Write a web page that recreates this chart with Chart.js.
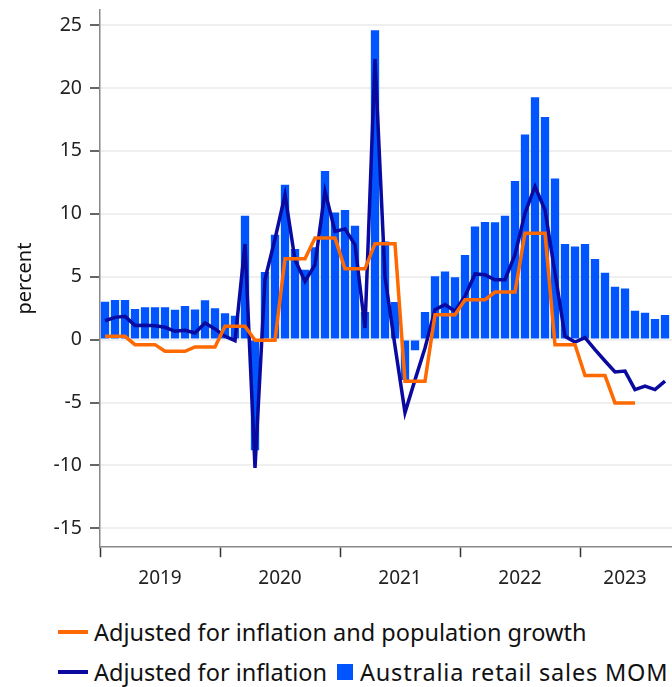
<!DOCTYPE html>
<html><head><meta charset="utf-8">
<script src="https://cdn.jsdelivr.net/npm/chart.js@4.4.1/dist/chart.umd.min.js"></script>
<style>
html,body{margin:0;padding:0;background:#fff;}
#wrap{position:relative;width:672px;height:687px;overflow:hidden;}
#cbox{position:absolute;left:0;top:0;width:672px;height:600px;}
#legend{position:absolute;left:58px;top:612px;font-family:'Noto Sans',sans-serif;font-size:23.5px;color:#111;}
.row{display:flex;align-items:center;height:40px;white-space:nowrap;}
.item{display:flex;align-items:center;margin-right:10px;}
.line{width:30px;height:4px;margin-right:6px;}
.sq{width:16px;height:16px;margin-right:7px;}
.wide{letter-spacing:0.8px;}
</style></head>
<body><div id="wrap"><div id="cbox"><canvas id="c"></canvas></div><div id="legend"></div></div>
<script>
// ---- data ----
const years = ['2019','2020','2021','2022','2023'];
const yTicks = [-15,-10,-5,0,5,10,15,20,25];
const seriesNames = ['Adjusted for inflation and population growth','Adjusted for inflation','Australia retail sales MOM'];
// monthly, Jan 2019 .. Sep 2023
const retailSales = [3.0,3.15,3.15,2.43,2.57,2.57,2.57,2.38,2.67,2.4,3.12,2.49,
  2.1,1.9,9.84,-8.8,5.37,8.33,12.3,7.2,5.56,7.35,13.4,10.1,
  10.3,9.05,2.2,24.6,7.8,2.99,-3.2,-0.85,2.2,5.03,5.42,4.95,
  6.72,9.0,9.35,9.32,9.84,12.6,16.3,19.26,17.7,12.8,7.6,7.4,
  7.6,6.4,5.32,4.2,4.07,2.3,2.14,1.64,1.96];
const adjInflation = [1.5,1.77,1.85,1.13,1.15,1.1,0.98,0.66,0.74,0.53,1.32,0.85,
  0.26,-0.08,7.6,-10.2,4.8,8.0,11.5,6.35,4.63,5.95,11.8,8.6,
  8.8,7.54,0.93,22.3,5.0,-0.5,-5.8,-3.2,-0.66,2.38,2.78,2.25,
  3.45,5.22,5.15,4.76,4.76,6.75,10.05,12.17,10.3,5.3,0.26,-0.2,
  0.15,-0.8,-1.7,-2.57,-2.5,-3.97,-3.7,-3.97,-3.3];
const adjInflationPop = [0.26,0.26,0.26,-0.4,-0.4,-0.4,-0.93,-0.93,-0.93,-0.58,-0.58,-0.58,
  1.06,1.06,1.06,-0.05,-0.05,-0.05,6.43,6.43,6.43,8.07,8.07,8.07,
  5.63,5.63,5.63,7.62,7.62,7.62,-3.3,-3.3,-3.3,1.98,1.98,1.98,
  3.17,3.17,3.17,3.78,3.78,3.78,8.46,8.46,8.46,-0.4,-0.4,-0.4,
  -2.86,-2.86,-2.86,-5.03,-5.03,-5.03];

const colors = ['#ff6a00','#0a0aa0','#0055ff'];
const FONT = 'Noto Sans';
const toXY = arr => arr.map((v,i)=>({x:i,y:v}));
const lastIdx = retailSales.length - 0.5;
// x positions: year boundaries and (visible) year centres in month-index units
const yearStarts = years.map((y,k)=>k*12-0.5);
const yearMids = years.map((y,k)=>(yearStarts[k] + Math.min(yearStarts[k]+12, lastIdx))/2);

const chart = new Chart(document.getElementById('c'), {
  type:'bar',
  data:{datasets:[
    {type:'line',label:seriesNames[0],data:toXY(adjInflationPop),borderColor:colors[0],backgroundColor:colors[0],borderWidth:3.5,pointRadius:0,tension:0,order:0},
    {type:'line',label:seriesNames[1],data:toXY(adjInflation),borderColor:colors[1],backgroundColor:colors[1],borderWidth:3.5,pointRadius:0,tension:0,order:1},
    {type:'bar',label:seriesNames[2],data:toXY(retailSales),backgroundColor:colors[2],barPercentage:1,categoryPercentage:0.83,order:2}
  ]},
  options:{
    responsive:true,maintainAspectRatio:false,animation:false,
    layout:{padding:{top:10,right:0,left:0,bottom:0}},
    plugins:{legend:{display:false},tooltip:{enabled:false}},
    scales:{
      x:{type:'linear',min:-0.5,max:56.7,offset:false,
        afterBuildTicks:s=>{s.ticks=[...yearStarts,...yearMids].sort((a,b)=>a-b).map(v=>({value:v}));},
        afterFit:s=>{s.paddingLeft=0;s.paddingRight=0;},
        ticks:{autoSkip:false,maxRotation:0,padding:10,color:'#222',font:{family:FONT,size:19},
          callback:v=>{const k=yearMids.indexOf(v);return k>=0?years[k]:'';}},
        grid:{offset:false,drawOnChartArea:false,drawTicks:true,tickLength:10,tickWidth:1.5,
          tickColor:c=>(c.tick&&yearStarts.indexOf(c.tick.value)>=0)?'#333':'rgba(0,0,0,0)'},
        border:{color:'#888',width:1.5}
      },
      y:{type:'linear',min:-16.5,max:26.2,
        afterBuildTicks:s=>{s.ticks=yTicks.map(v=>({value:v}));},
        afterFit:s=>{s.width=100;s.paddingTop=0;s.paddingBottom=0;},
        title:{display:true,text:'percent',color:'#111',font:{family:FONT,size:20},padding:{top:13,bottom:0}},
        ticks:{padding:8,color:'#222',font:{family:FONT,size:19.5}},
        grid:{color:'#efefef',lineWidth:2,tickLength:10,tickColor:'#333',tickWidth:1.5},
        border:{color:'#888',width:1.5}
      }
    }
  }
});

// HTML legend built from the chart's datasets
const lg = document.getElementById('legend');
const ds = chart.data.datasets;
const rows = [[0],[1,2]];
rows.forEach(r=>{
  const row=document.createElement('div');row.className='row';
  r.forEach(i=>{
    const it=document.createElement('div');it.className='item';
    const sw=document.createElement('span');
    sw.className = ds[i].type==='bar'?'sq':'line';
    sw.style.background = ds[i].type==='bar'?ds[i].backgroundColor:ds[i].borderColor;
    const tx=document.createElement('span');tx.textContent=ds[i].label;
    if(ds[i].type==='bar') tx.className='wide';
    it.appendChild(sw);it.appendChild(tx);row.appendChild(it);
  });
  lg.appendChild(row);
});
</script></body></html>
